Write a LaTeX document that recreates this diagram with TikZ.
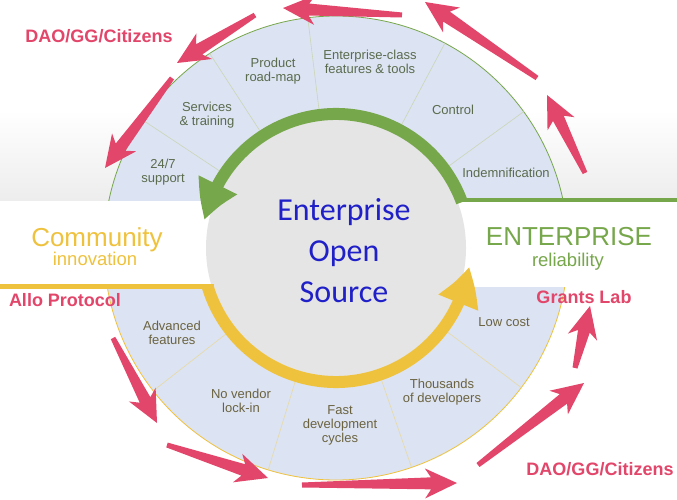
\documentclass[tikz,border=0pt]{standalone}
\usepackage{fontspec}
\setmainfont{Liberation Sans}
\newfontfamily\titlefont{Carlito}
\usetikzlibrary{arrows.meta,bending,calc}
\definecolor{ringfill}{HTML}{DCE3F2}
\definecolor{corefill}{HTML}{E5E5E5}
\definecolor{entgreen}{HTML}{77A74B}
\definecolor{comyellow}{HTML}{EFC23E}
\definecolor{uptext}{HTML}{5A6B4E}
\definecolor{lowtext}{HTML}{6B6340}
\definecolor{coreblue}{HTML}{2020C8}
\definecolor{flowred}{HTML}{E2466A}
\definecolor{updiv}{HTML}{CBD6B6}
\definecolor{lowdiv}{HTML}{E8DAA4}
\definecolor{bgshade}{HTML}{EDEDED}

% tapered red arrow, #1 = tail, #2 = tip
\newcommand{\flowarrow}[2]{%
  \coordinate (fa-b) at ($(#2)!26pt!(#1)$);
  \coordinate (fa-w) at ($(#2)!32pt!(#1)$);
  \fill[flowred] ($(#1)!2.5pt!90:(#2)$) -- ($(fa-b)!6pt!90:(#2)$) -- ($(fa-w)!15pt!90:(#2)$) -- (#2)
    -- ($(fa-w)!15pt!-90:(#2)$) -- ($(fa-b)!6pt!-90:(#2)$) -- ($(#1)!2.5pt!-90:(#2)$) -- cycle;}

\begin{document}
\begin{tikzpicture}[x=1pt, y=-1pt,
    seg/.style={font=\fontsize{13}{14}\selectfont, align=center},
    upseg/.style={seg, text=uptext},
    lowseg/.style={seg, text=lowtext},
    band/.style={line width=12pt, -{Triangle[length=38pt, width=40pt, bend]}},
    divider/.style={line width=0.6pt},
    redtag/.style={font=\fontsize{18}{20}\selectfont\bfseries, text=flowred, anchor=base},
    headline/.style={font=\fontsize{26}{28}\selectfont, anchor=base, inner sep=0pt},
    subline/.style={font=\fontsize{18.5}{20}\selectfont, anchor=base, inner sep=0pt}
]
  \useasboundingbox (0,0) rectangle (677,500);
  \coordinate (c) at (336,248);

  % background
  \fill[white] (0,0) rectangle (677,500);
  \shade[top color=white, bottom color=bgshade] (0,110) rectangle (677,200);

  % upper ring
  \begin{scope}
    \clip (0,0) rectangle (677,200);
    \fill[ringfill] (c) circle (232pt);
    \draw[entgreen, line width=0.8pt] (c) circle (232pt);
    \foreach \a in {36,62,97,123,146.5}
      \draw[updiv, divider] ($(c)+(\a:140pt)$) -- ($(c)+(\a:232pt)$);
  \end{scope}

  % lower ring
  \begin{scope}
    \clip (0,287) rectangle (677,500);
    \fill[ringfill] (c) circle (232pt);
    \draw[comyellow, line width=0.8pt] (c) circle (232pt);
    \foreach \a in {218,253,289,323}
      \draw[lowdiv, divider] ($(c)+(\a:140pt)$) -- ($(c)+(\a:232pt)$);
  \end{scope}

  % core and its two arrows
  \fill[corefill] (c) circle (130pt);
  \draw[band, entgreen] ($(c)+(20:134pt)$) arc[start angle=20, end angle=168, radius=134pt];
  \draw[entgreen, line width=4.5pt] (458,200) -- (677,200);
  \draw[band, comyellow] ($(c)+(197:134pt)$) arc[start angle=197, end angle=352, radius=134pt];
  \draw[comyellow, line width=5pt] (0,286) -- (214,286);

  \node[font=\titlefont\fontsize{32}{41}\selectfont, text=coreblue, align=center] (core) at (344,251) {Enterprise\\Open\\Source};

  % segments
  \node[upseg] (support) at (163,172) {24/7\\support};
  \node[upseg] (services) at (207,115) {Services\\\& training};
  \node[upseg] (roadmap) at (273,71) {Product\\road-map};
  \node[upseg] (features) at (370,62) {Enterprise-class\\features \& tools};
  \node[upseg] (control) at (453,110) {Control};
  \node[upseg] (indemn) at (506,173) {Indemnification};

  \node[lowseg] (advanced) at (172,333) {Advanced\\features};
  \node[lowseg] (vendor) at (241,401) {No vendor\\lock-in};
  \node[lowseg] (cycles) at (340,425) {Fast\\development\\cycles};
  \node[lowseg] (devs) at (442,392) {Thousands\\of developers};
  \node[lowseg] (lowcost) at (504,322) {Low cost};

  % sides
  \node[headline, text=comyellow] (community) at (97,246) {Community};
  \node[subline, text=comyellow] (innovation) at (95,265) {innovation};
  \node[headline, text=entgreen] (enterprise) at (569,245) {ENTERPRISE};
  \node[subline, text=entgreen] (reliability) at (568,266) {reliability};

  % red flow
  \node[redtag] (daotop) at (99,43) {DAO/GG/Citizens};
  \node[redtag] (allo) at (65,306) {Allo Protocol};
  \node[redtag] (grants) at (584,303) {Grants Lab};
  \node[redtag] (daobottom) at (600,475) {DAO/GG/Citizens};

  \foreach \xa/\ya/\xb/\yb [count=\i] in {402/15/283/8, 255/15/177/63, 172/78/105/168,
      537/78/425/2, 585/173/547/95, 113/338/157/423, 167/445/268/478,
      302/485/457/483, 478/465/584/383, 575/368/590/306}{
    \coordinate (tail\i) at (\xa,\ya);
    \coordinate (tip\i) at (\xb,\yb);
    \flowarrow{tail\i}{tip\i}
  }
\end{tikzpicture}
\end{document}
